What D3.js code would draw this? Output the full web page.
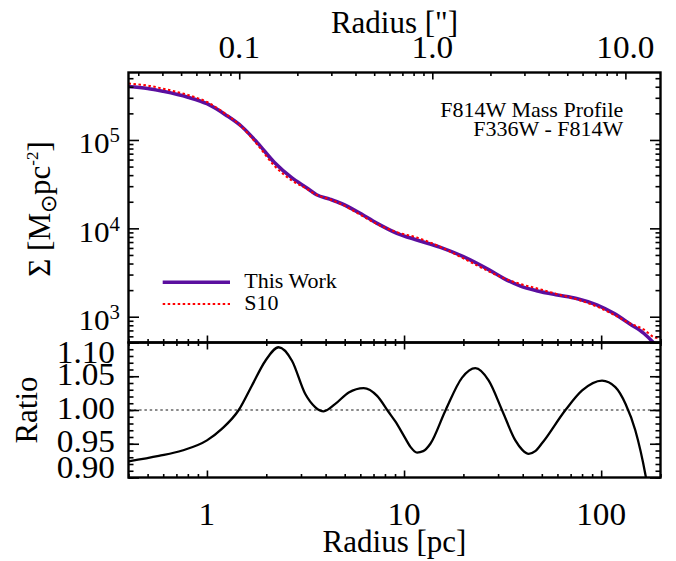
<!DOCTYPE html>
<html>
<head>
<meta charset="utf-8">
<script src="https://cdn.jsdelivr.net/npm/d3@7"></script>
<style>
    body { margin: 0; background: #fff; }
    text { font-family: "Liberation Serif", "Times New Roman", serif; fill: #000; }
</style>
</head>
<body>
<div class="chart-box"></div>
<script>
// ---------------------------//
//            DATA            //
// ---------------------------//
const radiusPc = [0.4, 0.5, 0.6, 0.8, 1.0, 1.25, 1.5, 1.8, 2.2, 2.7, 3.2, 3.6, 4.2, 4.8, 5.8, 7.3,
                  9.2, 11.6, 15.3, 20, 27, 32, 39, 47, 60, 75, 95, 116, 140, 165, 185, 200];
const sigmaThisWork = [4.02e5, 3.83e5, 3.55e5, 3.05e5, 2.57e5, 1.91e5, 1.42e5, 9.33e4, 5.56e4, 3.72e4,
                       2.88e4, 2.40e4, 2.14e4, 1.91e4, 1.54e4, 1.14e4, 8.79e3, 7.38e3, 6.10e3, 4.79e3,
                       3.39e3, 2.72e3, 2.22e3, 1.97e3, 1.76e3, 1.61e3, 1.36e3, 1.09e3, 828, 646, 501, 398];
const sigmaS10 = [4.35e5, 4.13e5, 3.80e5, 3.23e5, 2.69e5, 1.955e5, 1.41e5, 8.89e4, 5.10e4, 3.47e4,
                  2.81e4, 2.39e4, 2.13e4, 1.88e4, 1.49e4, 1.117e4, 9.06e3, 7.88e3, 6.16e3, 4.57e3,
                  3.25e3, 2.73e3, 2.34e3, 2.10e3, 1.80e3, 1.575e3, 1.305e3, 1.053e3, 841, 714, 589, 568];

const ratioRadius = [0.40, 0.57, 0.75, 1.00, 1.19, 1.45, 1.69, 1.98, 2.31, 2.70, 3.15, 3.55, 3.91,
                     4.48, 5.24, 6.24, 7.30, 8.35, 9.03, 10.15, 10.8, 11.64, 12.5, 13.6, 16.2, 19.7,
                     23.0, 26.9, 31.5, 36.7, 39.8, 42.9, 46.3, 50.2, 65.9, 80.1, 101, 118, 133,
                     149, 168, 180];
const ratioValues = [0.924, 0.932, 0.940, 0.955, 0.972, 1.000, 1.036, 1.073, 1.093, 1.073, 1.024,
                     1.004, 0.998, 1.009, 1.026, 1.0325, 1.021, 0.997, 0.983, 0.958, 0.945, 0.937,
                     0.939, 0.950, 0.999, 1.048, 1.062, 1.0435, 0.999, 0.955, 0.941, 0.935, 0.939,
                     0.951, 1.000, 1.029, 1.0435, 1.034, 1.009, 0.970, 0.903, 0.85];

const bottomTicks = [1, 10, 100];
const bottomTickLabels = ["1", "10", "100"];
const topTicks = [0.1, 1, 10];
const topTickLabels = ["0.1", "1.0", "10.0"];
const sigmaTicks = [1e3, 1e4, 1e5];
const sigmaExponents = ["3", "4", "5"];
const ratioTicks = [0.90, 0.95, 1.00, 1.05, 1.10];
const ratioTickLabels = ["0.90", "0.95", "1.00", "1.05", "1.10"];
const legendLabels = ["This Work", "S10"];
const noteLines = ["F814W Mass Profile", "F336W - F814W"];

// ---------------------------//
//           LAYOUT           //
// ---------------------------//
const WIDTH = 676, HEIGHT = 561;
const PLOT = { left: 128.5, right: 660.5, top: 72.5, mid: 342.5, bottom: 477.5 };
const PURPLE = "#5b0f9f";
const LABEL_SIZE = 32, LABEL_STRETCH = 1.04;

const svg = d3.select(".chart-box").append("svg")
    .attr("width", WIDTH)
    .attr("height", HEIGHT);

// ---------------------------//
//          SCALES            //
// ---------------------------//
const xScale = d3.scaleLog().domain([0.4, 200]).range([PLOT.left, PLOT.right]);
const xTopScale = d3.scaleLog().domain([0.0267, 15.2]).range([PLOT.left, PLOT.right]);
const yScale = d3.scaleLog().domain([511, 5.8e5]).range([PLOT.mid, PLOT.top]);
const rScale = d3.scaleLinear().domain([0.90, 1.10]).range([PLOT.bottom, PLOT.mid]);

const isDecade = v => Math.abs(Math.log10(v) - Math.round(Math.log10(v))) < 1e-6;

// clip regions for both panels
const defs = svg.append("defs");
defs.append("clipPath").attr("id", "clipTop").append("rect")
    .attr("x", PLOT.left).attr("y", PLOT.top)
    .attr("width", PLOT.right - PLOT.left).attr("height", PLOT.mid - PLOT.top);
defs.append("clipPath").attr("id", "clipBottom").append("rect")
    .attr("x", PLOT.left).attr("y", PLOT.mid)
    .attr("width", PLOT.right - PLOT.left).attr("height", PLOT.bottom - PLOT.mid);

// ---------------------------//
//         UPPER PANEL        //
// ---------------------------//
const profileLine = d3.line()
    .x(d => xScale(d[0]))
    .y(d => yScale(d[1]))
    .curve(d3.curveMonotoneX);

const upper = svg.append("g").attr("clip-path", "url(#clipTop)");

upper.append("path")
    .datum(radiusPc.map((r, i) => [r, sigmaThisWork[i]]))
    .attr("d", profileLine)
    .attr("fill", "none")
    .attr("stroke", PURPLE)
    .attr("stroke-width", 3.6);

upper.append("path")
    .datum(radiusPc.map((r, i) => [r, sigmaS10[i]]))
    .attr("d", profileLine)
    .attr("fill", "none")
    .attr("stroke", "#ff0000")
    .attr("stroke-width", 2)
    .attr("stroke-dasharray", "2.5,2.5");

// ---------------------------//
//         LOWER PANEL        //
// ---------------------------//
const ratioLine = d3.line()
    .x(d => xScale(d[0]))
    .y(d => rScale(d[1]))
    .curve(d3.curveMonotoneX);

const lower = svg.append("g").attr("clip-path", "url(#clipBottom)");

lower.append("line")
    .attr("x1", PLOT.left).attr("x2", PLOT.right)
    .attr("y1", rScale(1)).attr("y2", rScale(1))
    .attr("stroke", "#666")
    .attr("stroke-width", 1.6)
    .attr("stroke-dasharray", "2.5,2.8");

lower.append("path")
    .datum(ratioRadius.map((r, i) => [r, ratioValues[i]]))
    .attr("d", ratioLine)
    .attr("fill", "none")
    .attr("stroke", "#000")
    .attr("stroke-width", 2.3);

// ---------------------------//
//       AXIS TICKS           //
// ---------------------------//
function ticks(axisFn, scale, values, size, tx, ty) {
    const g = svg.append("g")
        .attr("transform", `translate(${tx},${ty})`)
        .call(axisFn(scale).tickValues(values).tickSize(size).tickFormat(""));
    g.select(".domain").remove();
    g.selectAll("line").attr("stroke-width", 1.6);
}

const xAll = xScale.ticks();
const xMajor = xAll.filter(isDecade), xMinor = xAll.filter(v => !isDecade(v));
const topAll = xTopScale.ticks();
const topMajor = topAll.filter(isDecade), topMinor = topAll.filter(v => !isDecade(v));
const yAll = yScale.ticks();
const yMajor = yAll.filter(isDecade), yMinor = yAll.filter(v => !isDecade(v));
const rMinor = d3.range(0.90, 1.1001, 0.01);

// x ticks: top of upper panel (arcsec), between panels and bottom (pc)
ticks(d3.axisTop, xTopScale, topMinor, -3.5, 0, PLOT.top);
ticks(d3.axisTop, xTopScale, topMajor, -7, 0, PLOT.top);
ticks(d3.axisBottom, xScale, xMinor, -3.5, 0, PLOT.mid);
ticks(d3.axisBottom, xScale, xMajor, -7, 0, PLOT.mid);
ticks(d3.axisTop, xScale, xMinor, -3.5, 0, PLOT.mid);
ticks(d3.axisTop, xScale, xMajor, -7, 0, PLOT.mid);
ticks(d3.axisBottom, xScale, xMinor, -3.5, 0, PLOT.bottom);
ticks(d3.axisBottom, xScale, xMajor, -7, 0, PLOT.bottom);

// y ticks both sides
ticks(d3.axisLeft, yScale, yMinor, -5, PLOT.left, 0);
ticks(d3.axisLeft, yScale, yMajor, -10.5, PLOT.left, 0);
ticks(d3.axisRight, yScale, yMinor, -5, PLOT.right, 0);
ticks(d3.axisRight, yScale, yMajor, -10.5, PLOT.right, 0);
ticks(d3.axisLeft, rScale, rMinor, -5, PLOT.left, 0);
ticks(d3.axisLeft, rScale, ratioTicks, -10.5, PLOT.left, 0);
ticks(d3.axisRight, rScale, rMinor, -5, PLOT.right, 0);
ticks(d3.axisRight, rScale, ratioTicks, -10.5, PLOT.right, 0);

// frames
[[PLOT.top, PLOT.mid], [PLOT.mid, PLOT.bottom]].forEach(p => {
    svg.append("rect")
        .attr("x", PLOT.left).attr("y", p[0])
        .attr("width", PLOT.right - PLOT.left).attr("height", p[1] - p[0])
        .attr("fill", "none")
        .attr("stroke", "#000")
        .attr("stroke-width", 2.4);
});

// ---------------------------//
//        TICK LABELS         //
// ---------------------------//
function stretchedText(x, y, anchor, size) {
    return svg.append("g")
        .attr("transform", `translate(${x},${y})`)
        .append("text")
        .attr("transform", `scale(${LABEL_STRETCH},1)`)
        .attr("text-anchor", anchor)
        .style("font-size", (size || LABEL_SIZE) + "px");
}

bottomTicks.forEach((v, i) => {
    stretchedText(xScale(v), PLOT.bottom + 47, "middle").text(bottomTickLabels[i]);
});

topTicks.forEach((v, i) => {
    stretchedText(xTopScale(v), PLOT.top - 15, "middle").text(topTickLabels[i]);
});

sigmaTicks.forEach((v, i) => {
    const t = stretchedText(PLOT.left - 8.5, yScale(v) + 13.5, "end", 30);
    t.append("tspan").text("10");
    t.append("tspan")
        .attr("dy", -11)
        .style("font-size", "20px")
        .text(sigmaExponents[i]);
});

ratioTicks.forEach((v, i) => {
    // end labels are pushed inside the panel
    const shift = v === 1.10 ? 20.8 : v === 0.90 ? 0.8 : 8.5;
    stretchedText(PLOT.left - 13.5, rScale(v) + shift, "end").text(ratioTickLabels[i]);
});

// ---------------------------//
//        AXIS TITLES         //
// ---------------------------//
const xMid = (PLOT.left + PLOT.right) / 2;

svg.append("text")
    .attr("x", xMid).attr("y", 551.7)
    .attr("text-anchor", "middle")
    .style("font-size", "31px")
    .text("Radius [pc]");

svg.append("text")
    .attr("x", xMid).attr("y", 33.3)
    .attr("text-anchor", "middle")
    .style("font-size", "31px")
    .text("Radius [\"]");

svg.append("text")
    .attr("transform", `translate(36.5,${rScale(1)}) rotate(-90)`)
    .attr("text-anchor", "middle")
    .style("font-size", "31px")
    .text("Ratio");

const sigTitle = svg.append("text")
    .attr("transform", `translate(50,209) rotate(-90)`)
    .attr("text-anchor", "middle")
    .style("font-size", "31px");
sigTitle.append("tspan").text("Σ [M");
sigTitle.append("tspan").attr("dy", 6).style("font-size", "22px").text("⊙");
sigTitle.append("tspan").attr("dy", -6).text("pc");
sigTitle.append("tspan").attr("dy", -12).style("font-size", "17px").text("-2");
sigTitle.append("tspan").attr("dy", 12).text("]");

// ---------------------------//
//      LEGEND AND NOTE       //
// ---------------------------//
const legend = svg.append("g").attr("transform", "translate(162.7,282.3)");
const legendStyles = [
    { stroke: PURPLE, width: 3.6, dash: null },
    { stroke: "#ff0000", width: 2, dash: "2.5,2.5" }
];
legendLabels.forEach((lab, i) => {
    const row = legend.append("g").attr("transform", `translate(0,${i * 21.7})`);
    row.append("line")
        .attr("x1", 0).attr("x2", 67.3)
        .attr("stroke", legendStyles[i].stroke)
        .attr("stroke-width", legendStyles[i].width)
        .attr("stroke-dasharray", legendStyles[i].dash);
    row.append("text")
        .attr("x", 81.6).attr("y", 6)
        .style("font-size", "22px")
        .text(lab);
});

noteLines.forEach((line, i) => {
    svg.append("text")
        .attr("x", 623.3).attr("y", 116.7 + i * 19.3)
        .attr("text-anchor", "end")
        .style("font-size", "22px")
        .text(line);
});
</script>
</body>
</html>
